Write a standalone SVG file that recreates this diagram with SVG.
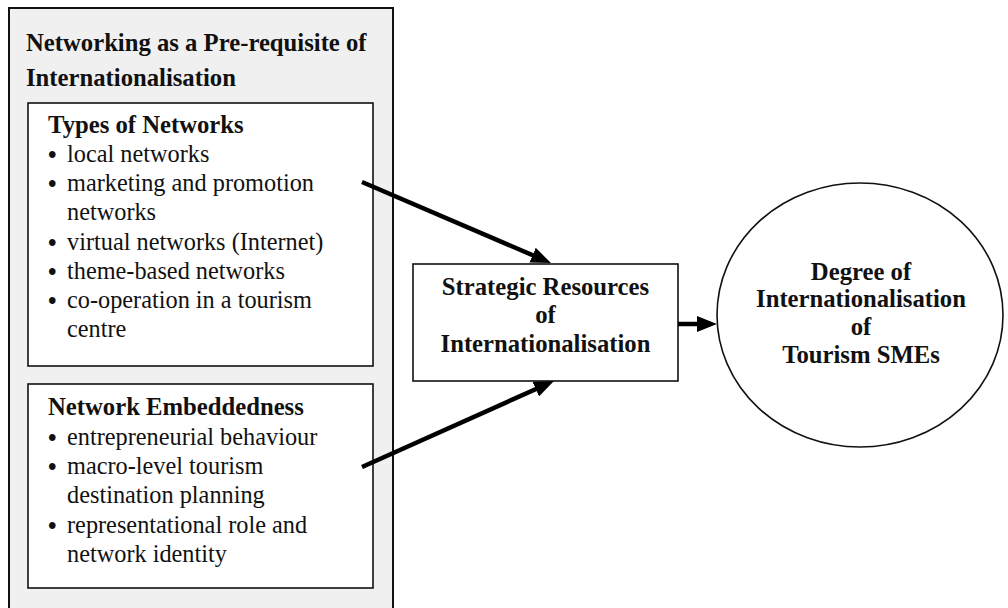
<svg xmlns="http://www.w3.org/2000/svg" width="1008" height="608" viewBox="0 0 1008 608">
  <style>
    .frame { fill: #f0f0f0; stroke: #111; stroke-width: 2; }
    .box { fill: #fff; stroke: #111; stroke-width: 1.6; }
    .txt { font-family: "Liberation Serif", "Times New Roman", serif; font-size: 24.3px; fill: #111; }
    .b { font-weight: bold; font-size: 24.7px; }
    .c { text-anchor: middle; }
    .dot { font-weight: bold; }
    .conn { stroke: #000; stroke-width: 4.5; fill: none; marker-end: url(#head); }
  </style>
  <defs>
    <marker id="head" viewBox="0 0 20 16" refX="6" refY="8" markerWidth="20" markerHeight="16" markerUnits="userSpaceOnUse" orient="auto">
      <path d="M0,0 L20,8 L0,16 z" fill="#000"/>
    </marker>
  </defs>

  <rect width="1008" height="608" fill="#fff"/>

  <!-- Networking frame with its two sub-boxes -->
  <g id="networking">
    <rect class="frame" x="9" y="8" width="384" height="610"/>
    <text class="txt b" x="26" y="51">Networking as a Pre-requisite of</text>
    <text class="txt b" x="26" y="86">Internationalisation</text>
  </g>

  <g id="types-of-networks">
    <rect class="box" x="28" y="103" width="345" height="263"/>
    <text class="txt b" x="48" y="133">Types of Networks</text>
    <text class="txt" y="162"><tspan class="dot" x="48" dy="1">•</tspan><tspan x="67" dy="-1">local networks</tspan></text>
    <text class="txt" y="191"><tspan class="dot" x="48" dy="1">•</tspan><tspan x="67" dy="-1">marketing and promotion</tspan></text>
    <text class="txt" x="67" y="220">networks</text>
    <text class="txt" y="250"><tspan class="dot" x="48" dy="1">•</tspan><tspan x="67" dy="-1">virtual networks (Internet)</tspan></text>
    <text class="txt" y="279"><tspan class="dot" x="48" dy="1">•</tspan><tspan x="67" dy="-1">theme-based networks</tspan></text>
    <text class="txt" y="308"><tspan class="dot" x="48" dy="1">•</tspan><tspan x="67" dy="-1">co-operation in a tourism</tspan></text>
    <text class="txt" x="67" y="337">centre</text>
  </g>

  <g id="network-embeddedness">
    <rect class="box" x="28" y="384" width="345" height="204"/>
    <text class="txt b" x="48" y="415">Network Embeddedness</text>
    <text class="txt" y="445"><tspan class="dot" x="48" dy="1">•</tspan><tspan x="67" dy="-1">entrepreneurial behaviour</tspan></text>
    <text class="txt" y="474"><tspan class="dot" x="48" dy="1">•</tspan><tspan x="67" dy="-1">macro-level tourism</tspan></text>
    <text class="txt" x="67" y="503">destination planning</text>
    <text class="txt" y="533"><tspan class="dot" x="48" dy="1">•</tspan><tspan x="67" dy="-1">representational role and</tspan></text>
    <text class="txt" x="67" y="562">network identity</text>
  </g>

  <g id="strategic-resources">
    <rect class="box" x="413" y="264" width="265" height="117"/>
    <text class="txt b c" x="545.5" y="295">Strategic Resources</text>
    <text class="txt b c" x="545.5" y="323">of</text>
    <text class="txt b c" x="545.5" y="352">Internationalisation</text>
  </g>

  <g id="degree-of-internationalisation">
    <ellipse class="box" cx="860" cy="315" rx="143" ry="132"/>
    <text class="txt b c" x="861" y="280">Degree of</text>
    <text class="txt b c" x="861" y="307">Internationalisation</text>
    <text class="txt b c" x="861" y="335">of</text>
    <text class="txt b c" x="861" y="363">Tourism SMEs</text>
  </g>

  <g id="connectors">
    <line class="conn" x1="362" y1="182" x2="538.1" y2="257.5"/>
    <line class="conn" x1="362" y1="467" x2="541.2" y2="386.7"/>
    <line class="conn" x1="678" y1="324" x2="703" y2="324"/>
  </g>
</svg>
